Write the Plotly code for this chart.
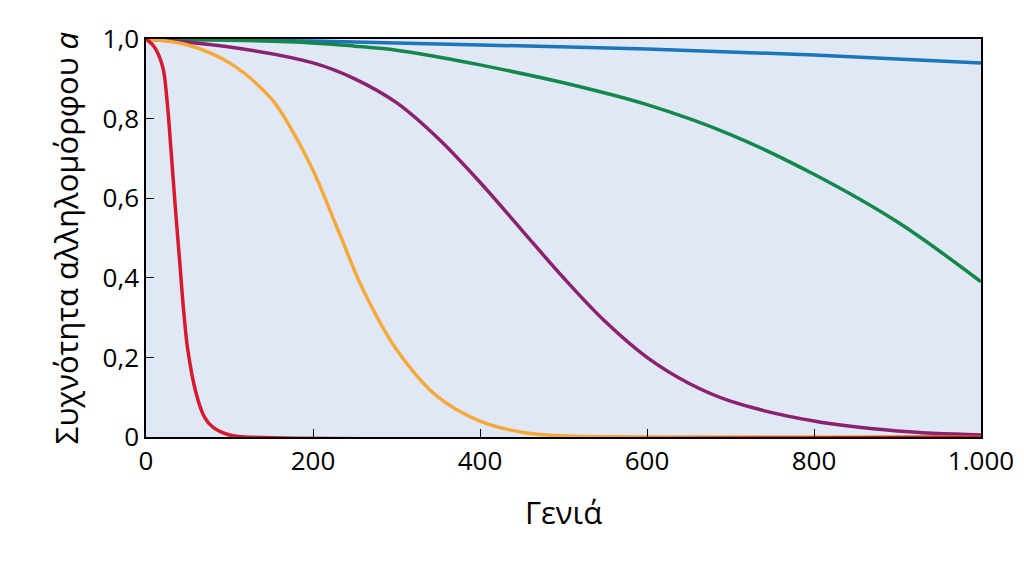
import plotly.graph_objects as go

# allele frequency
red_x = [0, 10, 20, 25, 30, 35, 40, 45, 50, 60, 70, 80, 100, 120, 1000]
red_y = [1.0, 0.98, 0.93, 0.85, 0.72, 0.58, 0.45, 0.32, 0.22, 0.11, 0.05, 0.025, 0.005, 0.0, 0.0]

orange_x = [0, 50, 100, 150, 175, 200, 230, 260, 300, 350, 400, 450, 500, 600, 1000]
orange_y = [1.0, 0.985, 0.94, 0.85, 0.77, 0.67, 0.52, 0.37, 0.22, 0.1, 0.04, 0.012, 0.003, 0.0, 0.0]

purple_x = [0, 100, 200, 250, 300, 350, 400, 450, 500, 550, 600, 650, 700, 800, 900, 1000]
purple_y = [1.0, 0.98, 0.94, 0.9, 0.84, 0.75, 0.64, 0.52, 0.4, 0.29, 0.2, 0.135, 0.09, 0.04, 0.015, 0.005]

green_x = [0, 100, 200, 250, 300, 350, 400, 500, 600, 700, 800, 900, 1000]
green_y = [1.0, 0.997, 0.99, 0.982, 0.972, 0.955, 0.935, 0.89, 0.835, 0.76, 0.66, 0.54, 0.39]

blue_x = [0, 200, 400, 600, 800, 1000]
blue_y = [1.0, 0.995, 0.985, 0.975, 0.96, 0.94]

series = [
    (blue_x, blue_y, "#1a75bb"),
    (green_x, green_y, "#12894a"),
    (purple_x, purple_y, "#8b2270"),
    (orange_x, orange_y, "#f6a93b"),
    (red_x, red_y, "#d7192e"),
]

fig = go.Figure()
for xs, ys, col in series:
    fig.add_trace(go.Scatter(x=xs, y=ys, mode="lines",
                             line=dict(color=col, width=3.5, shape="spline", smoothing=1.0),
                             showlegend=False, cliponaxis=True))

fig.update_layout(
    width=1024, height=570,
    paper_bgcolor="white", plot_bgcolor="#e1e8f5",
    margin=dict(l=138, r=51, t=22, b=141),
    font=dict(family="Open Sans", size=26, color="black"),
)
fig.update_xaxes(range=[0, 1000], tickvals=[0, 200, 400, 600, 800, 1000],
                 ticktext=["0", "200", "400", "600", "800", "1.000"],
                 ticks="inside", ticklen=8, tickcolor="black",
                 showline=True, linecolor="black", linewidth=1.5, mirror=True,
                 showgrid=False, zeroline=False,
                 title=dict(text="Γενιά", standoff=25))
fig.update_yaxes(range=[0, 1.0], tickvals=[0, 0.2, 0.4, 0.6, 0.8, 1.0],
                 ticktext=["0", "0,2", "0,4", "0,6", "0,8", "1,0"],
                 ticks="inside", ticklen=8, tickcolor="black",
                 showline=True, linecolor="black", linewidth=1.5, mirror=True,
                 showgrid=False, zeroline=False,
                 title=dict(text="Συχνότητα αλληλομόρφου <i>a</i>", standoff=15))

fig.write_html("out.html")
